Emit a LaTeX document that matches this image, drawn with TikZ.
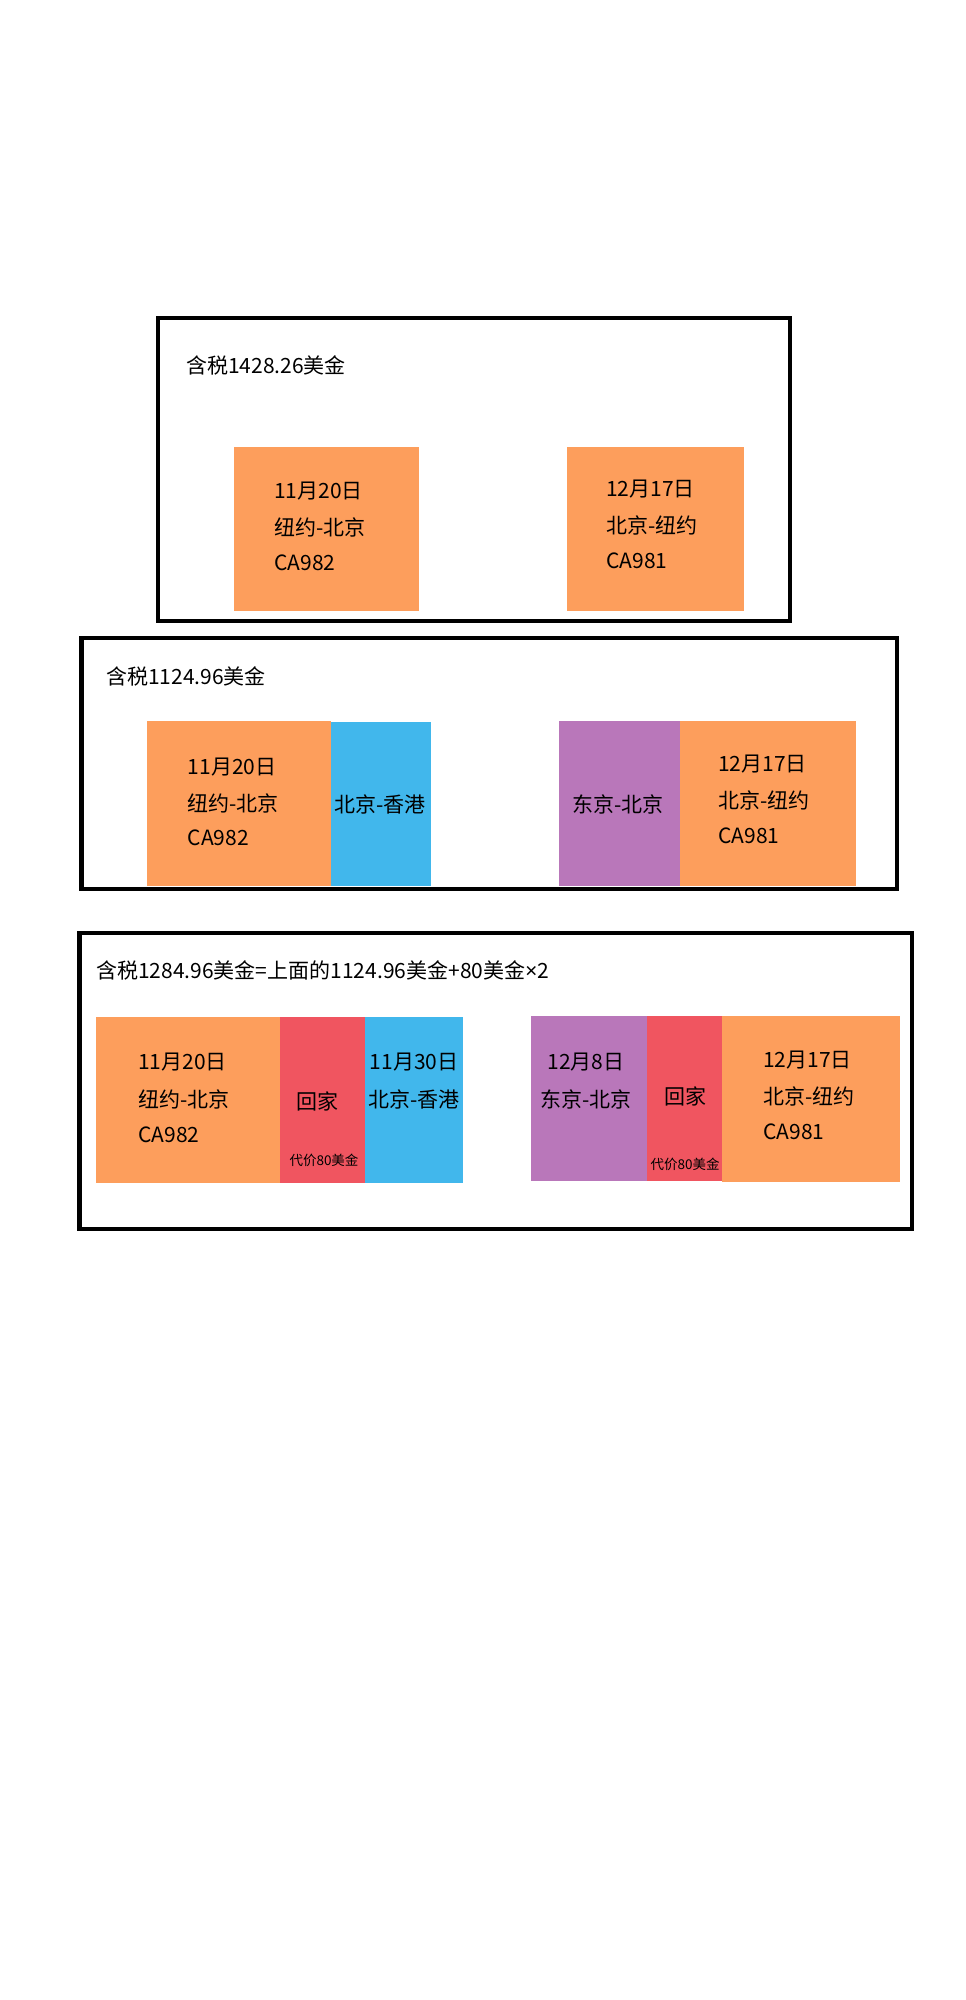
\documentclass[tikz,border=0pt]{standalone}
\usepackage{fontspec}
\setmainfont{Noto Sans CJK SC}
\newfontfamily\latinsans{Noto Sans}
\definecolor{corange}{HTML}{FD9E5C}
\definecolor{cblue}{HTML}{41B7EC}
\definecolor{cpurple}{HTML}{B977BA}
\definecolor{cred}{HTML}{F05560}
\tikzset{
  frame/.style={draw=black, line width=4.5pt},
  txt/.style={inner sep=0pt, anchor=west, font=\fontsize{21}{25}\selectfont},
  ctxt/.style={inner sep=0pt, anchor=center, font=\fontsize{21}{25}\selectfont},
  small/.style={inner sep=0pt, anchor=center, font=\fontsize{13.5}{16}\selectfont},
}
\begin{document}
\begin{tikzpicture}[x=1pt,y=-1pt]
\useasboundingbox[fill=white] (0,0) rectangle (966,2000);
% ---------- box 1 ----------
\draw[frame] (158,318) rectangle (790,621);
\node[txt] (t1) at (186,365) {含税1428.26美金};
\fill[corange] (233.5,446.5) rectangle (418.5,611);
\fill[corange] (566.5,446.5) rectangle (744,611);
\node[txt] (a1l1) at (274,491) {11月20日};
\node[txt] (a1l2) at (274,527) {纽约-北京};
\node[txt] (a1l3) at (274,563) {CA982};
\node[txt] (b1l1) at (606,489) {12月17日};
\node[txt] (b1l2) at (606,525) {北京-纽约};
\node[txt] (b1l3) at (606,561) {CA981};
% ---------- box 2 ----------
\draw[frame] (81.5,638) rectangle (897,889);
\node[txt] (t2) at (106,676) {含税1124.96美金};
\fill[corange] (147,721) rectangle (330.5,885.5);
\fill[cblue] (330.5,722) rectangle (431,885.5);
\fill[cpurple] (559,721) rectangle (680,885.5);
\fill[corange] (680,721) rectangle (856,885.5);
\node[txt] (a2l1) at (187.5,767) {11月20日};
\node[txt] (a2l2) at (187.5,803) {纽约-北京};
\node[txt] (a2l3) at (187.5,838) {CA982};
\node[ctxt] (b2) at (380,804) {北京-香港};
\node[ctxt] (c2) at (618,804) {东京-北京};
\node[txt] (d2l1) at (718,764) {12月17日};
\node[txt] (d2l2) at (718,800) {北京-纽约};
\node[txt] (d2l3) at (718,836) {CA981};
% ---------- box 3 ----------
\draw[frame] (79.5,933) rectangle (912,1229);
\node[txt] (t3) at (96,970) {含税1284.96美金=上面的1124.96美金+80美金{\latinsans ×}2};
\fill[corange] (96,1017) rectangle (279.5,1183);
\fill[cred] (279.5,1017) rectangle (365,1183);
\fill[cblue] (365,1017) rectangle (463,1183);
\fill[cpurple] (531,1016) rectangle (647,1180.5);
\fill[cred] (647,1016) rectangle (722,1180.5);
\fill[corange] (722,1016) rectangle (900,1182);
\node[txt] (a3l1) at (138,1062) {11月20日};
\node[txt] (a3l2) at (138,1099) {纽约-北京};
\node[txt] (a3l3) at (138,1134.5) {CA982};
\node[ctxt] (b3l1) at (317,1101) {回家};
\node[small] (b3l2) at (324,1160) {代价80美金};
\node[ctxt] (c3l1) at (414,1062) {11月30日};
\node[ctxt] (c3l2) at (414,1099) {北京-香港};
\node[ctxt] (d3l1) at (586,1062) {12月8日};
\node[ctxt] (d3l2) at (586,1099) {东京-北京};
\node[ctxt] (e3l1) at (685,1096) {回家};
\node[small] (e3l2) at (685,1164) {代价80美金};
\node[txt] (f3l1) at (763,1060) {12月17日};
\node[txt] (f3l2) at (763,1096) {北京-纽约};
\node[txt] (f3l3) at (763,1132) {CA981};
\end{tikzpicture}
\end{document}
